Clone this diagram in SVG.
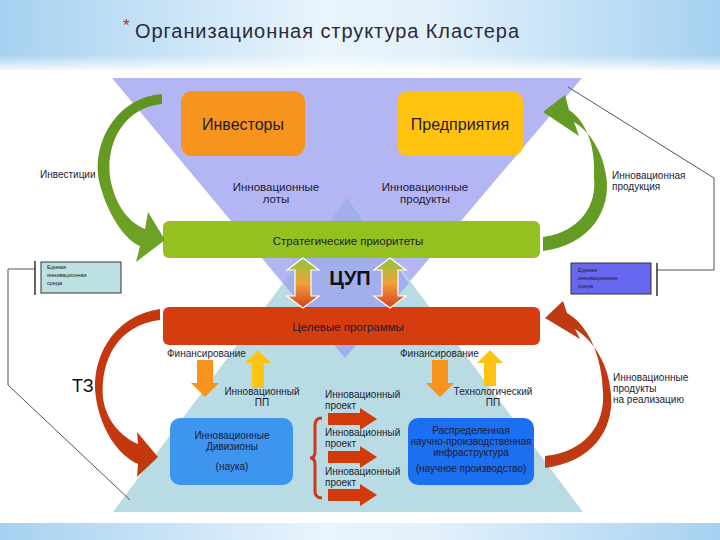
<svg xmlns="http://www.w3.org/2000/svg" width="720" height="540" viewBox="0 0 720 540">
<defs>
<linearGradient id="band" x1="0" y1="0" x2="1" y2="0">
<stop offset="0" stop-color="#a6d1f1"/><stop offset="0.45" stop-color="#e9f4fc"/><stop offset="0.6" stop-color="#e3f1fb"/><stop offset="1" stop-color="#a6d1f1"/>
</linearGradient>
<linearGradient id="fade" x1="0" y1="0" x2="0" y2="1">
<stop offset="0" stop-color="#ffffff" stop-opacity="0"/><stop offset="1" stop-color="#ffffff" stop-opacity="0.9"/>
</linearGradient>
<linearGradient id="dbl" x1="0" y1="0" x2="0" y2="1">
<stop offset="0" stop-color="#8ec63f"/><stop offset="0.5" stop-color="#f0a23a"/><stop offset="1" stop-color="#d6401a"/>
</linearGradient>
<linearGradient id="greenArc" x1="0" y1="0" x2="0" y2="1">
<stop offset="0" stop-color="#5f9320"/><stop offset="1" stop-color="#6fa526"/>
</linearGradient>
<style>
.t{font-family:"Liberation Sans",Arial,sans-serif;fill:#1c1c30}
.s{font-size:10px}
.m{font-size:11.5px}
.tiny{font-size:5.5px;fill:#222}
.big{font-size:16px}
.c{text-anchor:middle}
.dbl{fill:url(#dbl);stroke:#ffffff;stroke-width:1.2}
.red{fill:#d23a0c}
.or{fill:#f7941d}
.ye{fill:#fec213}
.line{fill:none;stroke:#555;stroke-width:1}
</style>
</defs>

<!-- background -->
<rect x="0" y="0" width="720" height="540" fill="#ffffff"/>
<rect x="0" y="0" width="720" height="70" fill="url(#band)"/>
<rect x="0" y="55" width="720" height="16" fill="url(#fade)"/>
<rect x="0" y="523" width="720" height="17" fill="url(#band)"/>

<!-- title -->
<text x="123" y="31" font-family="Liberation Sans,Arial,sans-serif" font-size="17" fill="#c0282c">*</text>
<text x="135" y="38" font-family="Liberation Sans,Arial,sans-serif" font-size="20" fill="#2a2a3a" textLength="384">Организационная структура Кластера</text>

<!-- triangles -->
<g id="triangles">
<polygon points="112,78 582,78 345,358" fill="#b4b5f3"/>
<polygon points="347,197 583,512 113,512" fill="#b9dce4"/>
<polygon points="347,197 409,283 345,358 283,283" fill="#a3afec"/>
</g>

<!-- side connector lines and boxes -->
<g id="side-left">
<polyline class="line" points="35,269 8,269 8,385 130,500"/>
<line x1="35" y1="261" x2="35" y2="295" stroke="#111" stroke-width="1.3"/>
<rect x="41" y="262" width="80" height="31" fill="#bde0e3" stroke="#333" stroke-width="1"/>
<text class="t tiny" x="47" y="269">Единая</text>
<text class="t tiny" x="47" y="277">инновационная</text>
<text class="t tiny" x="47" y="285">среда</text>
</g>
<g id="side-right">
<polyline class="line" points="657,270 714,270 714,178 568,87"/>
<line x1="657" y1="263" x2="657" y2="296" stroke="#111" stroke-width="1.3"/>
<rect x="571" y="263" width="80" height="31" fill="#6767ef" stroke="#333" stroke-width="1"/>
<text class="t tiny" x="578" y="272">Единая</text>
<text class="t tiny" x="578" y="280">инновационная</text>
<text class="t tiny" x="578" y="288">среда</text>
</g>

<!-- nodes -->
<g id="investors">
<rect x="181" y="91" width="124" height="65" rx="11" fill="#f7941e"/>
<text class="t big c" x="243" y="130">Инвесторы</text>
</g>
<g id="enterprises">
<rect x="397" y="91" width="126" height="65" rx="11" fill="#ffc20f"/>
<text class="t big c" x="460" y="130">Предприятия</text>
</g>
<g id="lots"><text class="t m c" x="276" y="191">Инновационные</text><text class="t m c" x="276" y="203">лоты</text></g>
<g id="products"><text class="t m c" x="425" y="191">Инновационные</text><text class="t m c" x="425" y="203">продукты</text></g>

<g id="strategic">
<rect x="163" y="221" width="377" height="37" rx="6" fill="#94c11f"/>
<text class="t m c" x="348" y="245">Стратегические приоритеты</text>
</g>
<g id="cup">
<text x="350" y="285" font-family="Liberation Sans,Arial,sans-serif" font-size="20" font-weight="bold" fill="#111" text-anchor="middle">ЦУП</text>
</g>
<g id="target">
<rect x="163" y="307" width="377" height="38" rx="6" fill="#d53c0e"/>
<text class="t m c" x="348" y="331">Целевые программы</text>
</g>

<g id="fin-left"><text class="t s" x="167" y="357">Финансирование</text></g>
<g id="fin-right"><text class="t s" x="400" y="357">Финансирование</text></g>

<g id="innov-pp"><text class="t s c" x="262" y="395">Инновационный</text><text class="t s c" x="262" y="406">ПП</text></g>
<g id="tech-pp"><text class="t s c" x="493" y="395">Технологический</text><text class="t s c" x="493" y="406">ПП</text></g>

<g id="projects">
<text class="t s" x="325" y="398">Инновационный</text><text class="t s" x="325" y="409">проект</text>
<text class="t s" x="325" y="436">Инновационный</text><text class="t s" x="325" y="447">проект</text>
<text class="t s" x="325" y="475">Инновационный</text><text class="t s" x="325" y="486">проект</text>
<path d="M322,418 Q315,418 315,425 L315,452 Q315,458 310,458 Q315,458 315,464 L315,491 Q315,498 322,498" fill="none" stroke="#c83a1a" stroke-width="3"/>
</g>

<g id="divisions">
<rect x="170" y="418" width="123" height="67" rx="10" fill="#3d95ef"/>
<text class="t s c" x="232" y="439">Инновационные</text>
<text class="t s c" x="232" y="450">Дивизионы</text>
<text class="t s c" x="232" y="470">(наука)</text>
</g>
<g id="infrastructure">
<rect x="408" y="418" width="126" height="67" rx="10" fill="#1b6ff0"/>
<text class="t s c" x="471" y="434">Распределенная</text>
<text class="t s c" x="471" y="445">научно-производственная</text>
<text class="t s c" x="471" y="456">инфраструктура</text>
<text class="t s c" x="471" y="472">(научное производство)</text>
</g>

<g id="labels">
<text class="t s" x="40" y="178">Инвестиции</text>
<text class="t s" x="612" y="179">Инновационная</text>
<text class="t s" x="612" y="190">продукция</text>
<text x="72" y="392" font-family="Liberation Sans,Arial,sans-serif" font-size="18" fill="#111">ТЗ</text>
<text class="t s" x="613" y="381">Инновационные</text>
<text class="t s" x="613" y="392">продукты</text>
<text class="t s" x="613" y="403">на реализацию</text>
</g>

<!-- connectors -->
<g id="connectors">
<path d="M162,94 C112,98 90,150 100,185 C108,215 125,240 140,246 L136,262 L165,240 L148,212 L145,229 C128,222 116,205 111,182 C104,150 120,108 162,104 Z" fill="url(#greenArc)"/>
<path d="M543,251 C590,245 612,210 606,175 C602,150 590,132 574,122 L579,136 L543,112 L565,95 L569,110 C585,120 596,145 594,178 C597,205 580,232 543,237 Z" fill="#649b22"/>
<path d="M160,309 C112,316 90,360 96,398 C101,430 118,455 138,464 L137,477 L158,457 L137,432 L138,444 C120,436 106,420 103,398 C100,360 118,325 160,320 Z" fill="#c4380f"/>
<path d="M545,468 C592,462 614,430 611,395 C609,365 595,342 575,329 L580,339 L545,318 L563,301 L567,313 C588,325 602,355 603,393 C605,425 585,452 545,456 Z" fill="#bf3a12"/>

<polygon class="dbl" points="303,258 319,270 311,270 311,296 319,296 303,308 287,296 295,296 295,270 287,270"/>
<polygon class="dbl" points="390,258 406,270 398,270 398,296 406,296 390,308 374,296 382,296 382,270 374,270"/>

<polygon class="or" points="197,360 213,360 213,383 219,383 205,397 191,383 197,383"/>
<polygon class="ye" points="258,350 271,363 264,363 264,388 252,388 252,363 245,363"/>
<polygon class="or" points="432,360 448,360 448,383 454,383 440,397 426,383 432,383"/>
<polygon class="ye" points="490,350 503,363 496,363 496,386 484,386 484,363 477,363"/>

<polygon class="red" points="328,413 360,413 360,408 377,419 360,430 360,425 328,425"/>
<polygon class="red" points="328,451 360,451 360,446 377,457 360,468 360,463 328,463"/>
<polygon class="red" points="328,489 360,489 360,484 377,495 360,506 360,501 328,501"/>
</g>
</svg>
